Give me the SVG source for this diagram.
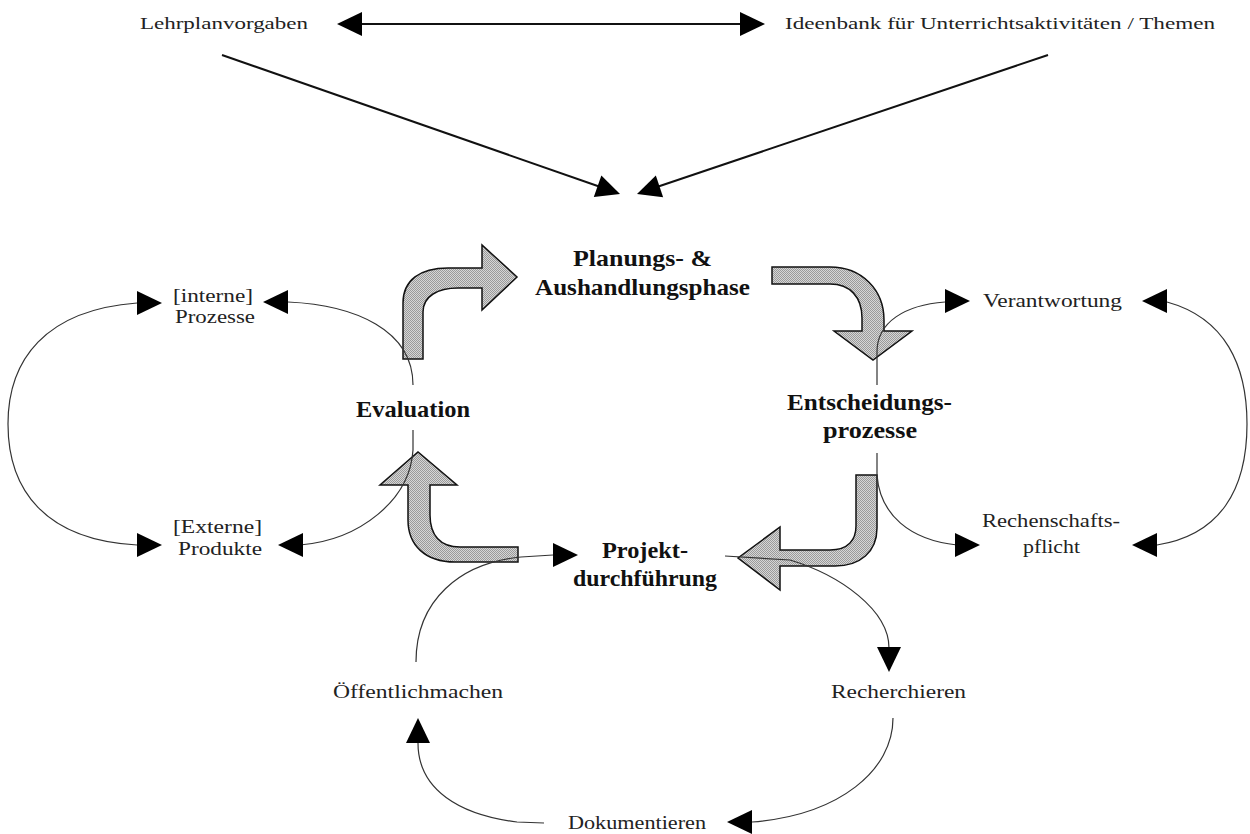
<svg xmlns="http://www.w3.org/2000/svg" width="1250" height="834" viewBox="0 0 1250 834">
<defs>
<style>
.lbl{font-family:"Liberation Serif","Times New Roman",serif;font-size:19px;fill:#222}
.top{font-family:"Liberation Serif","Times New Roman",serif;font-size:17px;fill:#222}
.phase{font-family:"Liberation Serif","Times New Roman",serif;font-size:24px;font-weight:bold;fill:#111}
.thin{fill:none;stroke:#333;stroke-width:1.2}
.thick{fill:none;stroke:#111;stroke-width:2}
.block{fill:url(#dots);stroke:#111;stroke-width:1.5}
.head{fill:#000}
</style>
<pattern id="dots" width="2" height="2" patternUnits="userSpaceOnUse">
<rect width="2" height="2" fill="#d6d6d6"/>
<rect width="1" height="1" fill="#9a9a9a"/>
<rect x="1" y="1" width="1" height="1" fill="#9a9a9a"/>
</pattern>
<path id="ah" d="M0 0 L-25 -12 L-25 12 Z"/>
</defs>
<rect width="1250" height="834" fill="#fff"/>

<g id="connectors">
  <path class="thick" d="M352 24 L750 24"/>
  <use href="#ah" class="head" transform="translate(337,24) rotate(180)"/>
  <use href="#ah" class="head" transform="translate(765,24)"/>
  <path class="thick" d="M222 55 L612 191"/>
  <use href="#ah" class="head" transform="translate(620,194) rotate(19.3) scale(0.95)"/>
  <path class="thick" d="M1048 55 L645 191"/>
  <use href="#ah" class="head" transform="translate(637,194) rotate(161.3) scale(0.95)"/>

  <path class="block" d="M403 359 L403 303 C403 280 420 268 448 268 L482 268 L482 245 L517 277 L482 310 L482 288 L458 288 C438 288 423 296 423 312 L423 359 Z"/>
  <path class="block" d="M772 267 L830 267 C862 267 884 290 884 320 L884 331 L912 331 L873 360 L834 331 L862 331 L862 318 C862 297 850 284 830 284 L772 284 Z"/>
  <path class="block" d="M856 475 L877 475 L877 528 C877 552 860 566 835 566 L780 566 L780 590 L738 558 L780 527 L780 550 L830 550 C848 550 856 540 856 526 Z"/>
  <path class="block" d="M408 485 L380 485 L418 452 L457 485 L430 485 L430 515 C430 535 440 547 460 547 L518 547 L518 562 L455 562 C425 562 408 545 408 520 Z"/>

  <path class="thin" d="M137 303 C45 310 8 360 8 424 C8 490 45 540 137 545"/>
  <path class="thin" d="M288 302 C355 305 413 330 413 385"/>
  <path class="thin" d="M413 430 L413 450 C410 500 360 540 300 545"/>
  <path class="thin" d="M1167 302 C1225 318 1247 365 1247 424 C1247 490 1220 535 1157 545"/>
  <path class="thin" d="M877 385 L877 352 C877 322 905 305 945 302"/>
  <path class="thin" d="M877 453 L877 475 C880 515 910 540 957 545"/>
  <path class="thin" d="M553 555 L521 557 C460 563 416 600 416 662"/>
  <path class="thin" d="M725 556 L790 560 C840 575 889 610 889 648"/>
  <path class="thin" d="M893 718 C893 770 840 815 752 822"/>
  <path class="thin" d="M544 823 L517 822 C460 815 418 790 418 743"/>

  <use href="#ah" class="head" transform="translate(162,303)"/>
  <use href="#ah" class="head" transform="translate(263,302) rotate(180)"/>
  <use href="#ah" class="head" transform="translate(162,545)"/>
  <use href="#ah" class="head" transform="translate(278,545) rotate(180)"/>
  <use href="#ah" class="head" transform="translate(970,301)"/>
  <use href="#ah" class="head" transform="translate(1142,301) rotate(180)"/>
  <use href="#ah" class="head" transform="translate(980,545)"/>
  <use href="#ah" class="head" transform="translate(1132,545) rotate(180)"/>
  <use href="#ah" class="head" transform="translate(578,555)"/>
  <use href="#ah" class="head" transform="translate(889,672) rotate(90)"/>
  <use href="#ah" class="head" transform="translate(727,822) rotate(180)"/>
  <use href="#ah" class="head" transform="translate(418,718) rotate(-90)"/>
</g>

<g id="lehrplan"><text class="top" x="140" y="29" textLength="168" lengthAdjust="spacingAndGlyphs">Lehrplanvorgaben</text></g>
<g id="ideenbank"><text class="top" x="785" y="29" textLength="430" lengthAdjust="spacingAndGlyphs">Ideenbank für Unterrichtsaktivitäten / Themen</text></g>

<g id="planung">
  <text class="phase" x="573" y="266" textLength="139" lengthAdjust="spacingAndGlyphs">Planungs- &amp;</text>
  <text class="phase" x="535" y="295" textLength="215" lengthAdjust="spacingAndGlyphs">Aushandlungsphase</text>
</g>
<g id="evaluation"><text class="phase" x="356" y="417" textLength="114" lengthAdjust="spacingAndGlyphs">Evaluation</text></g>
<g id="entscheidung">
  <text class="phase" x="787" y="410" textLength="165" lengthAdjust="spacingAndGlyphs">Entscheidungs-</text>
  <text class="phase" x="823" y="438" textLength="94" lengthAdjust="spacingAndGlyphs">prozesse</text>
</g>
<g id="projekt">
  <text class="phase" x="602" y="558" textLength="86" lengthAdjust="spacingAndGlyphs">Projekt-</text>
  <text class="phase" x="573" y="586" textLength="144" lengthAdjust="spacingAndGlyphs">durchführung</text>
</g>

<g id="interne">
  <text class="lbl" x="173" y="302" textLength="80" lengthAdjust="spacingAndGlyphs">[interne]</text>
  <text class="lbl" x="175" y="323" textLength="80" lengthAdjust="spacingAndGlyphs">Prozesse</text>
</g>
<g id="externe">
  <text class="lbl" x="173" y="533" textLength="89" lengthAdjust="spacingAndGlyphs">[Externe]</text>
  <text class="lbl" x="178" y="555" textLength="84" lengthAdjust="spacingAndGlyphs">Produkte</text>
</g>
<g id="verantwortung"><text class="lbl" x="983" y="307" textLength="139" lengthAdjust="spacingAndGlyphs">Verantwortung</text></g>
<g id="rechenschaft">
  <text class="lbl" x="982" y="527" textLength="138" lengthAdjust="spacingAndGlyphs">Rechenschafts-</text>
  <text class="lbl" x="1023" y="553" textLength="57" lengthAdjust="spacingAndGlyphs">pflicht</text>
</g>
<g id="oeffentlich"><text class="lbl" x="333" y="698" textLength="170" lengthAdjust="spacingAndGlyphs">Öffentlichmachen</text></g>
<g id="recherchieren"><text class="lbl" x="831" y="698" textLength="135" lengthAdjust="spacingAndGlyphs">Recherchieren</text></g>
<g id="dokumentieren"><text class="lbl" x="568" y="829" textLength="138" lengthAdjust="spacingAndGlyphs">Dokumentieren</text></g>
</svg>
